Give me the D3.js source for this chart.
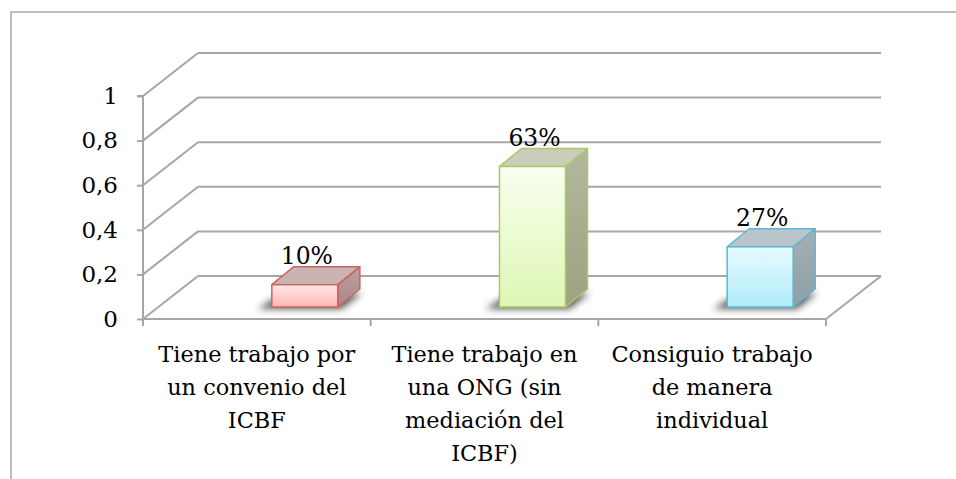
<!DOCTYPE html>
<html>
<head>
<meta charset="utf-8">
<script src="https://cdn.jsdelivr.net/npm/d3@7"></script>
<style>
  body { margin: 0; background: #fff; }
  svg text { font-family: "DejaVu Serif", serif; fill: #000; }
</style>
</head>
<body>
<svg id="chart" width="956" height="479"></svg>
<script>
// data
const categories = [
  ["Tiene trabajo por", "un convenio del", "ICBF"],
  ["Tiene trabajo en", "una ONG (sin", "mediación del", "ICBF)"],
  ["Consiguio trabajo", "de manera", "individual"]
];
const values = [0.10, 0.63, 0.27];
const valueLabels = ["10%", "63%", "27%"];
const yTicks = [0, 0.2, 0.4, 0.6, 0.8, 1];

const svg = d3.select("#chart");

// chart frame (cropped at right/bottom)
svg.append("path")
  .attr("d", "M11,479 L11,12 L956,12")
  .attr("fill", "none").attr("stroke", "#a6a6a6").attr("stroke-width", 1.5);

const x = d3.scaleBand().domain(d3.range(categories.length)).range([143, 826]);
const y = d3.scaleLinear().domain([0, 1]).range([319, 96]);

// depth of the walls
const wallDx = 55, wallDy = -43;
const gridCol = "#a6a6a6";

const g = svg.append("g");

// back wall gridlines + left wall diagonals
yTicks.forEach(t => {
  g.append("line")
    .attr("x1", 143 + wallDx).attr("x2", 826 + wallDx)
    .attr("y1", y(t) + wallDy).attr("y2", y(t) + wallDy)
    .attr("stroke", gridCol).attr("stroke-width", 2);
  g.append("line")
    .attr("x1", 143).attr("x2", 143 + wallDx)
    .attr("y1", y(t)).attr("y2", y(t) + wallDy)
    .attr("stroke", gridCol).attr("stroke-width", 2);
});
// floor right edge
g.append("line")
  .attr("x1", 826).attr("x2", 826 + wallDx)
  .attr("y1", y(0)).attr("y2", y(0) + wallDy)
  .attr("stroke", gridCol).attr("stroke-width", 2);

// y axis
const yAxis = d3.axisLeft(y).tickValues(yTicks).tickSize(6).tickPadding(19)
  .tickFormat(d => d3.format("~g")(d).replace(".", ","));
const ya = svg.append("g").attr("transform", "translate(143,0)").call(yAxis);
ya.select(".domain").attr("stroke", gridCol).attr("stroke-width", 2).attr("d", `M-6,${y(1)}H0V${y(0)}`);
ya.selectAll(".tick line").attr("stroke", gridCol).attr("stroke-width", 2);
ya.selectAll(".tick text").attr("font-size", 23).attr("font-family", "DejaVu Serif").attr("fill", "#000");

// x axis (front floor line)
const xa = svg.append("g");
xa.append("line").attr("x1", 143).attr("x2", 826).attr("y1", y(0)).attr("y2", y(0))
  .attr("stroke", gridCol).attr("stroke-width", 2);
const bounds = categories.map((c, i) => x(i)).concat([x.range()[1]]);
bounds.forEach(b => {
  xa.append("line").attr("x1", b).attr("x2", b).attr("y1", y(0)).attr("y2", y(0) + 7)
    .attr("stroke", gridCol).attr("stroke-width", 2);
});

categories.forEach((lines, i) => {
  const t = xa.append("text").attr("text-anchor", "middle").attr("font-size", 22.4);
  lines.forEach((ln, k) => {
    t.append("tspan").attr("x", x(i) + x.bandwidth() / 2).attr("y", 362 + k * 33).text(ln);
  });
});

// bars
const defs = svg.append("defs");
defs.append("filter").attr("id", "blur").attr("x", "-50%").attr("y", "-50%")
  .attr("width", "200%").attr("height", "200%")
  .append("feGaussianBlur").attr("stdDeviation", 3.5);

const styles = [
  { front: ["#ffe8e8", "#ffb6b6"], stroke: "#d0625e", top: "#c9b3b3", side: ["#bc9e9e", "#a98a8a"] },
  { front: ["#f8ffef", "#def7b4"], stroke: "#a9c964", top: "#c9cdb9", side: ["#b3b89c", "#9ca283"] },
  { front: ["#e6fbff", "#b0ebfb"], stroke: "#5ab8d0", top: "#b9c5ca", side: ["#a4b0b5", "#8f9fa6"] }
];

styles.forEach((s, i) => {
  const gf = defs.append("linearGradient").attr("id", "f" + i).attr("x1", 0).attr("y1", 0).attr("x2", 0).attr("y2", 1);
  gf.append("stop").attr("offset", 0).attr("stop-color", s.front[0]);
  gf.append("stop").attr("offset", 1).attr("stop-color", s.front[1]);
  const gs = defs.append("linearGradient").attr("id", "s" + i).attr("x1", 0).attr("y1", 0).attr("x2", 0).attr("y2", 1);
  gs.append("stop").attr("offset", 0).attr("stop-color", s.side[0]);
  gs.append("stop").attr("offset", 1).attr("stop-color", s.side[1]);
});

const barW = 66, barDx = 22, barDy = -18;
const barOff = 15;     // bar left edge from band centre
const barLift = 12;    // bars stand a bit into the floor

const bars = svg.append("g");
values.forEach((v, i) => {
  const x0 = x(i) + x.bandwidth() / 2 + barOff, x1 = x0 + barW;
  const yb = y(0) - barLift, yt = y(v) - barLift;
  const s = styles[i];
  // shadow
  bars.append("path")
    .attr("d", `M${x0 - 14},${yb + 2} L${x1 + 4},${yb + 2} L${x1 + barDx + 2},${yb + barDy + 4} L${x0 + 8},${yb + barDy + 6} Z`)
    .attr("fill", "#333").attr("opacity", 0.8).attr("filter", "url(#blur)");
  // side
  bars.append("path")
    .attr("d", `M${x1},${yt} L${x1 + barDx},${yt + barDy} L${x1 + barDx},${yb + barDy} L${x1},${yb} Z`)
    .attr("fill", `url(#s${i})`).attr("stroke", s.stroke).attr("stroke-width", 1.5).attr("stroke-linejoin", "round");
  // top
  bars.append("path")
    .attr("d", `M${x0},${yt} L${x0 + barDx},${yt + barDy} L${x1 + barDx},${yt + barDy} L${x1},${yt} Z`)
    .attr("fill", s.top).attr("stroke", s.stroke).attr("stroke-width", 1.5).attr("stroke-linejoin", "round");
  // front
  bars.append("rect")
    .attr("x", x0).attr("y", yt).attr("width", barW).attr("height", yb - yt)
    .attr("fill", `url(#f${i})`).attr("stroke", s.stroke).attr("stroke-width", 1.5);
  // value label
  bars.append("text")
    .attr("x", x0 + barW / 2 + 2).attr("y", yt + barDy - 3)
    .attr("text-anchor", "middle").attr("font-size", 23.5)
    .text(valueLabels[i]);
});
</script>
</body>
</html>
